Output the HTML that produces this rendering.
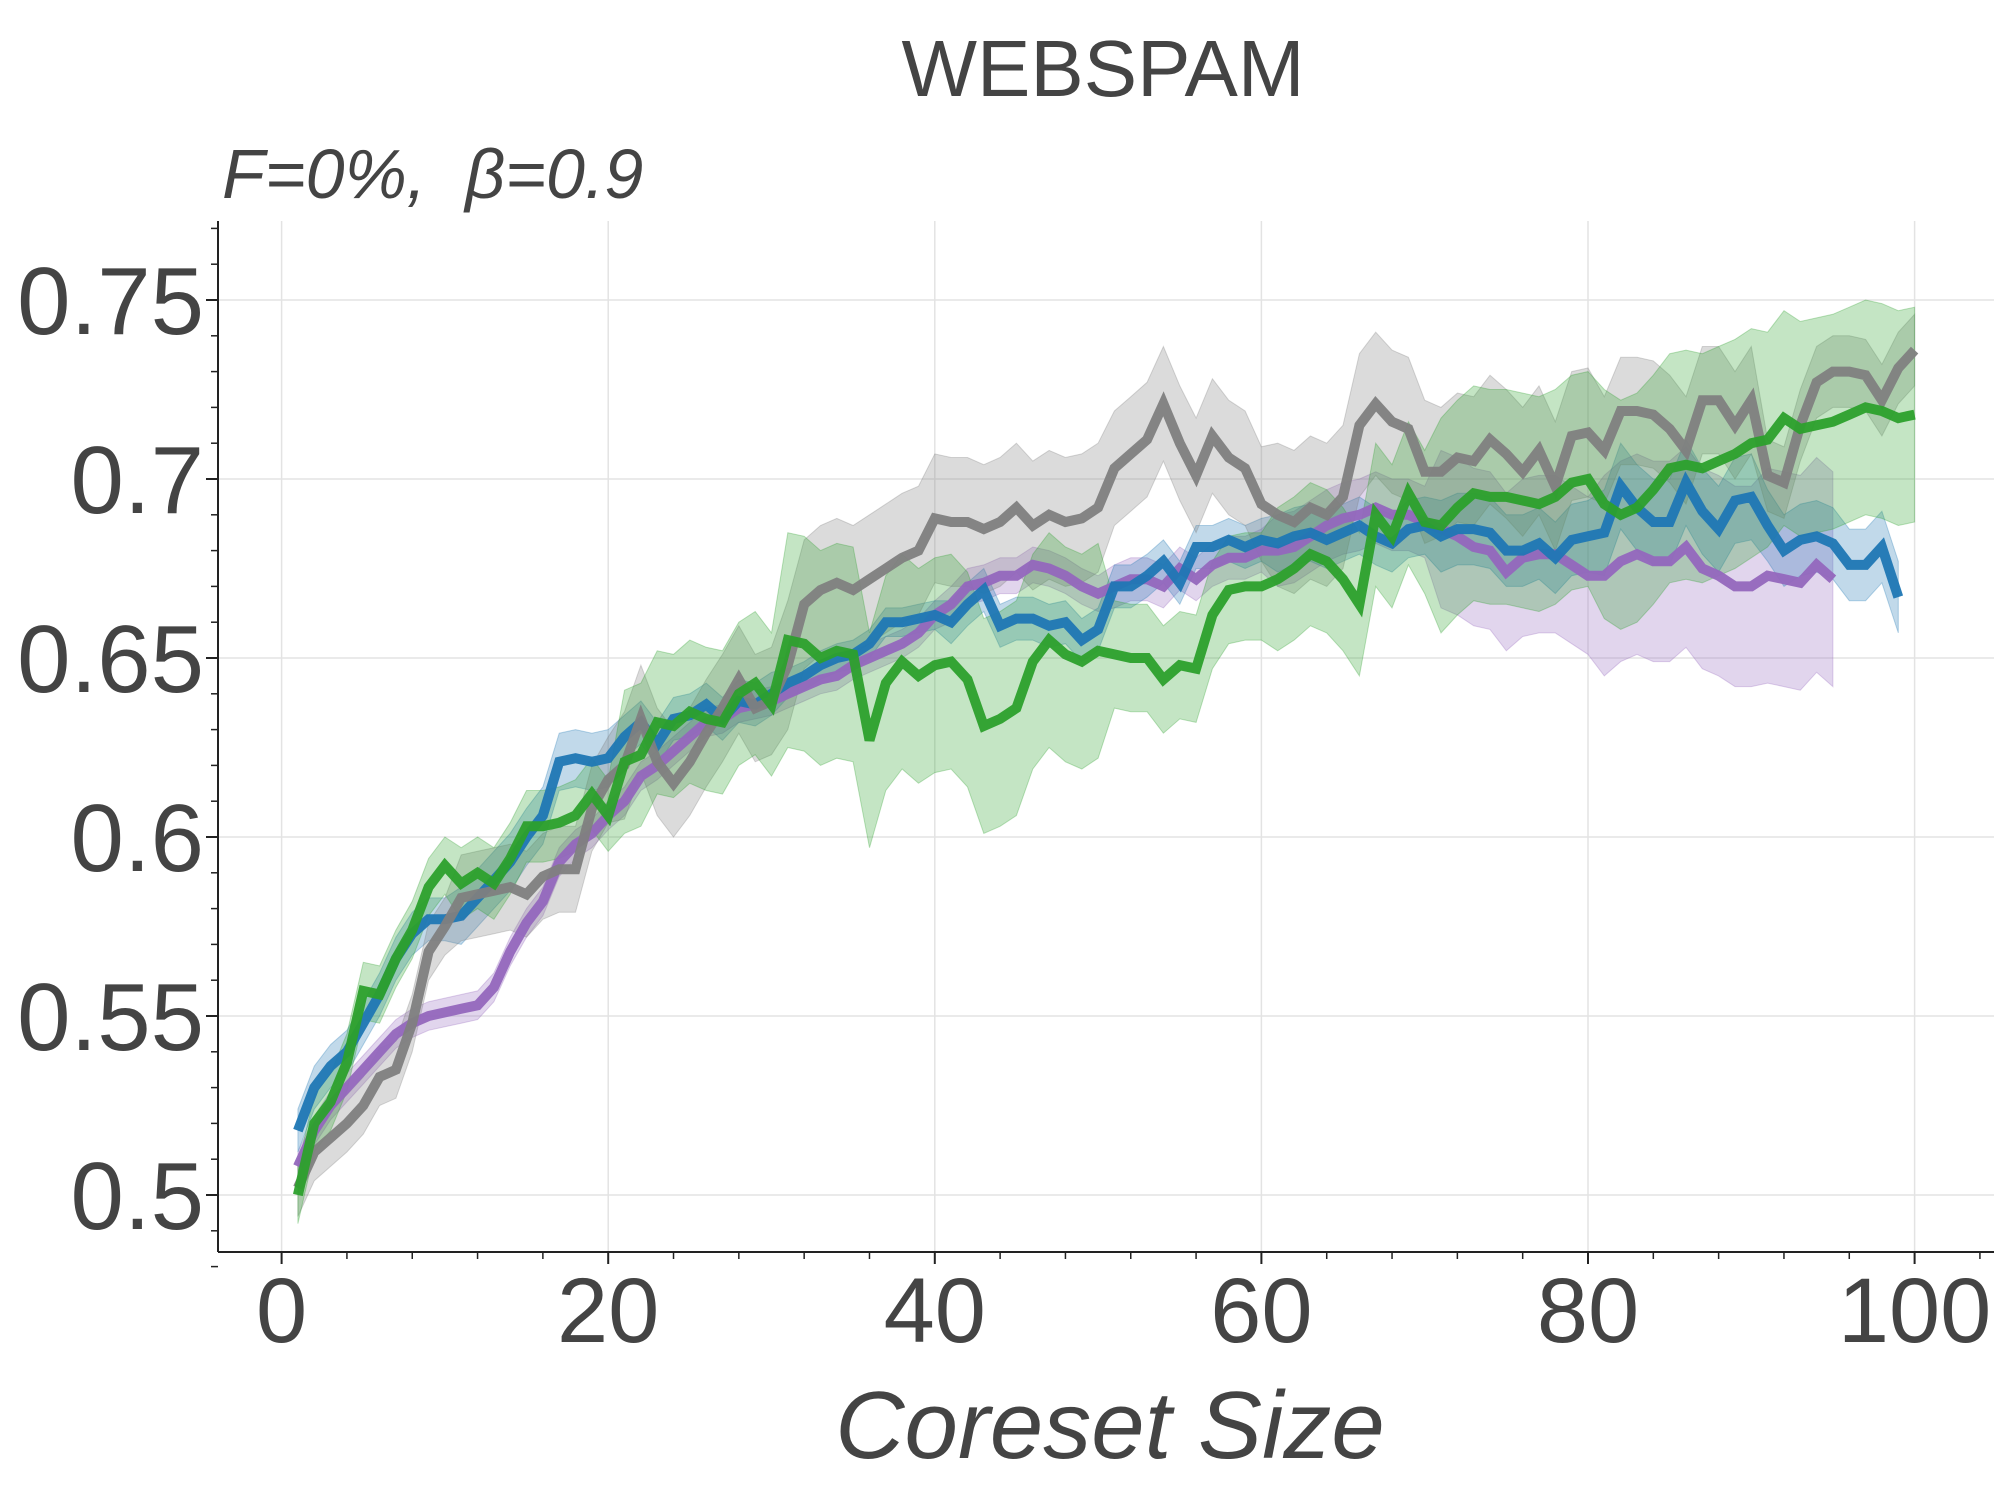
<!DOCTYPE html>
<html><head><meta charset="utf-8"><style>
html,body{margin:0;padding:0;background:#fff;}
svg{display:block;font-family:"Liberation Sans",sans-serif;}
</style></head><body>
<svg id="chart" width="2000" height="1500" viewBox="0 0 2000 1500" xmlns="http://www.w3.org/2000/svg">
<text x="1103" y="96" font-size="80" fill="#444" text-anchor="middle">WEBSPAM</text>
<text x="222" y="198" font-size="70" fill="#444" font-style="italic" style="white-space:pre">F=0%,  β=0.9</text>
<text x="1110" y="1458" font-size="96" fill="#444" font-style="italic" text-anchor="middle">Coreset Size</text>
<g id="grid"></g><g id="bands"></g><g id="lines"></g><g id="axes"></g>
</svg>
<script>
const xTicks=[0,20,40,60,80,100];
const yTicks=[0.5,0.55,0.6,0.65,0.7,0.75];
const yTickLabels=["0.5","0.55","0.6","0.65","0.7","0.75"];
const blueVals=[0.518,0.530,0.536,0.540,0.548,0.556,0.566,0.573,0.577,0.577,0.578,0.583,0.588,0.593,0.600,0.606,0.621,0.622,0.621,0.622,0.628,0.632,0.626,0.633,0.634,0.637,0.633,0.638,0.637,0.640,0.643,0.645,0.648,0.650,0.651,0.654,0.660,0.660,0.661,0.662,0.660,0.665,0.669,0.659,0.661,0.661,0.659,0.660,0.655,0.658,0.670,0.670,0.673,0.677,0.671,0.681,0.681,0.683,0.681,0.683,0.682,0.684,0.685,0.683,0.685,0.687,0.684,0.682,0.686,0.687,0.684,0.686,0.686,0.685,0.680,0.680,0.682,0.678,0.683,0.684,0.685,0.698,0.692,0.688,0.688,0.699,0.691,0.686,0.694,0.695,0.687,0.680,0.683,0.684,0.682,0.676,0.676,0.681,0.667];
const purpleVals=[0.508,0.518,0.525,0.530,0.535,0.540,0.545,0.548,0.550,0.551,0.552,0.553,0.558,0.568,0.576,0.582,0.593,0.598,0.601,0.606,0.610,0.617,0.620,0.624,0.628,0.632,0.633,0.636,0.637,0.638,0.640,0.642,0.644,0.645,0.648,0.650,0.652,0.654,0.657,0.662,0.665,0.670,0.671,0.673,0.673,0.676,0.675,0.673,0.670,0.668,0.670,0.672,0.672,0.670,0.675,0.672,0.676,0.678,0.678,0.680,0.680,0.681,0.684,0.687,0.689,0.690,0.692,0.690,0.690,0.688,0.686,0.684,0.681,0.680,0.674,0.678,0.679,0.679,0.676,0.673,0.673,0.677,0.679,0.677,0.677,0.681,0.675,0.673,0.670,0.670,0.673,0.672,0.671,0.676,0.672];
const greyVals=[0.502,0.512,0.516,0.520,0.525,0.533,0.535,0.548,0.568,0.575,0.583,0.584,0.585,0.586,0.584,0.589,0.591,0.591,0.608,0.616,0.620,0.633,0.621,0.615,0.621,0.629,0.636,0.644,0.636,0.638,0.648,0.665,0.669,0.671,0.669,0.672,0.675,0.678,0.680,0.689,0.688,0.688,0.686,0.688,0.692,0.687,0.690,0.688,0.689,0.692,0.703,0.707,0.711,0.721,0.710,0.701,0.712,0.706,0.703,0.693,0.690,0.688,0.692,0.690,0.695,0.715,0.721,0.716,0.714,0.702,0.702,0.706,0.705,0.711,0.707,0.702,0.708,0.698,0.712,0.713,0.708,0.719,0.719,0.718,0.714,0.708,0.722,0.722,0.715,0.722,0.701,0.699,0.715,0.727,0.730,0.730,0.729,0.722,0.731,0.736];
const greenVals=[0.500,0.520,0.526,0.537,0.557,0.556,0.566,0.574,0.586,0.592,0.587,0.590,0.587,0.594,0.603,0.603,0.604,0.606,0.612,0.606,0.621,0.623,0.632,0.631,0.635,0.633,0.632,0.640,0.643,0.637,0.655,0.654,0.650,0.652,0.651,0.627,0.643,0.649,0.645,0.648,0.649,0.644,0.631,0.633,0.636,0.649,0.655,0.651,0.649,0.652,0.651,0.650,0.650,0.644,0.648,0.647,0.662,0.669,0.670,0.670,0.672,0.675,0.679,0.677,0.672,0.665,0.690,0.684,0.696,0.688,0.687,0.692,0.696,0.695,0.695,0.694,0.693,0.695,0.699,0.700,0.693,0.690,0.692,0.697,0.703,0.704,0.703,0.705,0.707,0.710,0.711,0.717,0.714,0.715,0.716,0.718,0.720,0.719,0.717,0.718];
const blueErr=[0.006,0.008,0.006,0.004,0.006,0.006,0.008,0.010,0.012,0.010];
const purpleErr=[0.004,0.004,0.004,0.004,0.005,0.006,0.010,0.022,0.028,0.030];
const greyErr=[0.008,0.012,0.015,0.018,0.018,0.016,0.020,0.018,0.015,0.010];
const greenErr=[0.008,0.010,0.020,0.030,0.030,0.015,0.020,0.030,0.032,0.030];

const NS="http://www.w3.org/2000/svg";
const X0=281.6, XS=16.33, Y0=1195, YS=3580;
const L=218, R=1994, T=221, B=1252;
function xs(k){return X0+XS*k;}
function ys(v){return Y0-(v-0.5)*YS;}
function mk(tag,attrs,parent){const e=document.createElementNS(NS,tag);for(const k in attrs)e.setAttribute(k,attrs[k]);parent.appendChild(e);return e;}
const grid=document.getElementById('grid'),axes=document.getElementById('axes'),bands=document.getElementById('bands'),lines=document.getElementById('lines');
xTicks.forEach(t=>{
  const g=mk('line',{x1:xs(t),x2:xs(t),y1:T,y2:B,stroke:'#e3e3e3','stroke-width':1.5},grid);
  
  
  const tk=mk('line',{x1:xs(t),x2:xs(t),y1:B,y2:B+12,stroke:'#222','stroke-width':2},axes);
  
  
  const lb=mk('text',{x:xs(t),y:1342,'font-size':92,fill:'#444','text-anchor':'middle'},axes);
  lb.textContent=String(t);
  
  
});
for(let t=4;t<=104;t+=4){if(t%20===0)continue;
  const m=mk('line',{x1:xs(t),x2:xs(t),y1:B,y2:B+7,stroke:'#222','stroke-width':1.5},axes);
  
  
}
yTicks.forEach((t,i)=>{
  const g=mk('line',{x1:L,x2:R,y1:ys(t),y2:ys(t),stroke:'#e3e3e3','stroke-width':1.5},grid);
  
  
  const tk=mk('line',{x1:L-12,x2:L,y1:ys(t),y2:ys(t),stroke:'#222','stroke-width':2},axes);
  
  
  const lb=mk('text',{x:204,y:ys(t)+34,'font-size':96,fill:'#444','text-anchor':'end'},axes);
  lb.textContent=yTickLabels[i];
  
  
});
for(let v=0.48;v<=0.771;v+=0.01){const r=Math.round(v*100);if(r%5===0)continue;
  const m=mk('line',{x1:L-7,x2:L,y1:ys(r/100),y2:ys(r/100),stroke:'#222','stroke-width':1.5},axes);
  
  
}
const sp1=mk('line',{x1:L,x2:L,y1:T,y2:B,stroke:'#222','stroke-width':2},axes);


const sp2=mk('line',{x1:L,x2:R,y1:B,y2:B,stroke:'#222','stroke-width':2},axes);



function series(name,vals,errs,color){
  const up=[],dn=[];
  vals.forEach((v,i)=>{const k=i+1;const e=errs[Math.min(9,Math.floor(i/10))];up.push(xs(k).toFixed(1)+','+ys(v+e).toFixed(1));dn.unshift(xs(k).toFixed(1)+','+ys(v-e).toFixed(1));});
  const b=mk('polygon',{points:up.concat(dn).join(' '),fill:color,'fill-opacity':0.28,stroke:color,'stroke-opacity':0.3,'stroke-width':1},bands);
  
  
  const p=mk('polyline',{points:vals.map((v,i)=>xs(i+1).toFixed(1)+','+ys(v).toFixed(1)).join(' '),fill:'none',stroke:color,'stroke-width':10,'stroke-linejoin':'miter','stroke-opacity':0.95},lines);
  
  
}
series('purple-series',purpleVals,purpleErr,'#9467bd');
series('blue-series',blueVals,blueErr,'#1f77b4');
series('grey-series',greyVals,greyErr,'#7f7f7f');
series('green-series',greenVals,greenErr,'#2ca02c');
</script>
</body></html>
